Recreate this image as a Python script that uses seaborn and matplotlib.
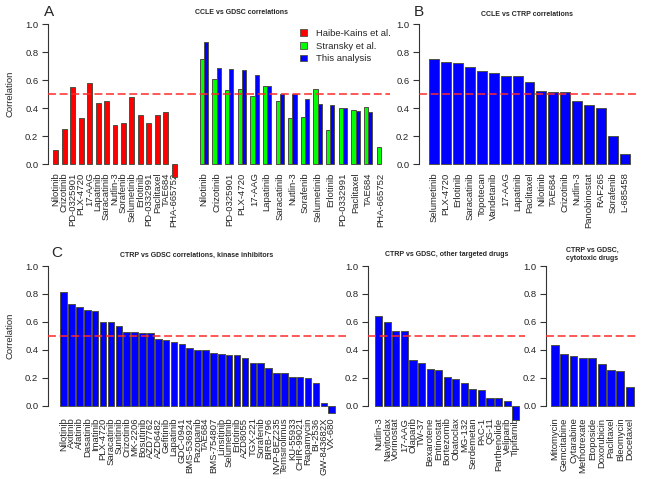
import numpy as np
import pandas as pd
import matplotlib as mpl
mpl.use('Agg')
import matplotlib.pyplot as plt
from matplotlib.patches import Patch
from matplotlib.ticker import FormatStrFormatter
import seaborn as sns

sns.set_style("ticks")
plt.rcParams['font.family'] = ['Liberation Sans', 'DejaVu Sans']

# ---- data -----------------------------------------------------------------
a_drugs = ["Nilotinib", "Crizotinib", "PD-0325901", "PLX-4720", "17-AAG", "Lapatinib",
           "Saracatinib", "Nutlin-3", "Sorafenib", "Selumetinib", "Erlotinib",
           "PD-0332991", "Paclitaxel", "TAE684", "PHA-665752"]
a_haibe = [0.10, 0.25, 0.55, 0.33, 0.58, 0.44, 0.45, 0.28, 0.29, 0.48, 0.35, 0.29, 0.35, 0.37, -0.09]
a_stransky = [0.75, 0.61, 0.53, 0.54, 0.49, 0.56, 0.45, 0.33, 0.34, 0.54, 0.24, 0.40, 0.39, 0.41, 0.12]
a_this = [0.87, 0.69, 0.68, 0.67, 0.64, 0.555, 0.50, 0.50, 0.465, 0.43, 0.42, 0.40, 0.38, 0.37, np.nan]

b_drugs = ["Selumetinib", "PLX-4720", "Erlotinib", "Saracatinib", "Topotecan", "Vandetanib",
           "17-AAG", "Lapatinib", "Paclitaxel", "Nilotinib", "TAE684", "Crizotinib",
           "Nutlin-3", "Panobinostat", "RAF265", "Sorafenib", "L-685458"]
b_corr = [0.754, 0.730, 0.723, 0.695, 0.663, 0.652, 0.628, 0.628, 0.585, 0.525, 0.513,
          0.513, 0.453, 0.42, 0.40, 0.20, 0.069]

c1_drugs = ["Nilotinib", "Axitinib", "Afatinib", "Dasatinib", "Imatinib", "PLX-4720",
            "Saracatinib", "Sunitinib", "Crizotinib", "MK-2206", "Bosutinib", "AZD7762",
            "AZD6482", "Gefitinib", "Lapatinib", "GDC-0941", "BMS-536924", "Pazopanib",
            "TAE684", "BMS-754807", "Linsitinib", "Selumetinib", "Erlotinib", "AZD8055",
            "TGX-221", "Sorafenib", "BIRB-796", "NVP-BEZ235", "Temsirolimus", "KU-55933",
            "CHIR-99021", "Rapamycin", "BI-2536", "GW-843682X", "VX-680"]
c1_corr = [0.816, 0.726, 0.707, 0.688, 0.676, 0.60, 0.60, 0.567, 0.529, 0.529, 0.519, 0.519,
           0.474, 0.467, 0.453, 0.441, 0.41, 0.40, 0.396, 0.376, 0.371, 0.364, 0.362, 0.345,
           0.307, 0.307, 0.267, 0.236, 0.236, 0.205, 0.203, 0.195, 0.162, 0.022, -0.054]

c2_drugs = ["Nutlin-3", "Navitoclax", "Vorinostat", "17-AAG", "Olaparib", "TW-37",
            "Bexarotene", "Entinostat", "Bortezomib", "Obatoclax", "MG-132", "Serdemetan",
            "PAC-1", "QS-11", "Parthenolide", "Veliparib", "Tipifarnib"]
c2_corr = [0.64, 0.60, 0.533, 0.533, 0.326, 0.307, 0.26, 0.253, 0.205, 0.193, 0.162,
           0.117, 0.115, 0.057, 0.057, 0.036, -0.10]

c3_drugs = ["Mitomycin", "Gemcitabine", "Cytarabine", "Methotrexate", "Etoposide",
            "Doxorubicin", "Paclitaxel", "Bleomycin", "Docetaxel"]
c3_corr = [0.433, 0.369, 0.357, 0.343, 0.338, 0.302, 0.255, 0.245, 0.136]

RED, GREEN, BLUE = "#ff0000", "#00ff00", "#0000ff"
EDGE = "#4f4f44"

# ---- layout helpers (pixel based) ------------------------------------------
W, H = 650, 479
fig = plt.figure(figsize=(W / 100, H / 100), dpi=100)


def px_axes(left, right, y0, ylim, scale=139.7):
    top = y0 - ylim[1] * scale
    bottom = y0 - ylim[0] * scale
    return fig.add_axes([left / W, 1 - bottom / H, (right - left) / W, (bottom - top) / H])


def r_xlim(n):
    # same padding as R's barplot (space=0.2, 4% axis extension)
    return (-0.583 - 0.04 * n, n - 0.583 + 0.04 * n)


def style(ax, ylim, xlim, yaxis=True):
    ax.set_ylim(*ylim)
    ax.set_xlim(*xlim)
    ax.set_yticks(np.arange(0, 1.01, 0.2))
    ax.yaxis.set_major_formatter(FormatStrFormatter('%.1f'))
    ax.tick_params(axis='y', labelsize=6.8, length=4.5, width=0.8, pad=2.5, color='#333333')
    ax.tick_params(axis='x', labelsize=6.8, length=0, pad=1.5, labelrotation=90)
    ax.set_xlabel('')
    ax.set_ylabel('')
    for s in ['top', 'right', 'bottom']:
        ax.spines[s].set_visible(False)
    ax.spines['left'].set_bounds(0, 1)
    ax.spines['left'].set_color('#333333')
    ax.spines['left'].set_linewidth(0.8)
    if not yaxis:
        ax.spines['left'].set_visible(False)
        ax.tick_params(axis='y', left=False, labelleft=False)
    ax.axhline(0.5, color='#ff2a2a', ls=(0, (5.2, 2.4)), lw=1.1, zorder=3)
    ax.patch.set_alpha(0)
    for p in ax.patches:
        p.set_clip_on(False)


def single_bars(ax, names, vals, color, width=0.83):
    sns.barplot(x=names, y=vals, color=color, width=width, saturation=1, errorbar=None,
                edgecolor=EDGE, linewidth=0.7, ax=ax)


ylim_top = (-0.045, 1.04)
ylim_bot = (-0.07, 1.04)

# ---- panel A ---------------------------------------------------------------
axA1 = px_axes(48, 188, 164, ylim_top)
single_bars(axA1, a_drugs, a_haibe, RED, width=0.59)
style(axA1, ylim_top, (-0.92, 15.63))

a_long = pd.DataFrame({
    "drug": a_drugs * 2,
    "source": ["Stransky et al."] * len(a_drugs) + ["This analysis"] * len(a_drugs),
    "corr": a_stransky + a_this,
})
axA2 = px_axes(188, 390, 164, ylim_top)
sns.barplot(data=a_long, x="drug", y="corr", hue="source",
            palette={"Stransky et al.": GREEN, "This analysis": BLUE},
            width=0.667, saturation=1, errorbar=None, edgecolor=EDGE, linewidth=0.7,
            legend=False, ax=axA2)
style(axA2, ylim_top, (-1.27, 14.73), yaxis=False)

fig.legend(handles=[Patch(facecolor=RED, edgecolor=EDGE, lw=0.6, label="Haibe-Kains et al."),
                    Patch(facecolor=GREEN, edgecolor=EDGE, lw=0.6, label="Stransky et al."),
                    Patch(facecolor=BLUE, edgecolor=EDGE, lw=0.6, label="This analysis")],
           loc='upper left', bbox_to_anchor=(300 / W, 1 - 29 / H), frameon=False,
           fontsize=6.8, handlelength=0.7, handleheight=0.7, handletextpad=1.0,
           labelspacing=0.38, borderpad=0, borderaxespad=0)

# ---- panel B ---------------------------------------------------------------
axB = px_axes(419, 638, 164, ylim_top)
single_bars(axB, b_drugs, b_corr, BLUE)
style(axB, ylim_top, r_xlim(len(b_drugs)))

# ---- panel C ---------------------------------------------------------------
axC1 = px_axes(48, 346, 405.7, ylim_bot)
single_bars(axC1, c1_drugs, c1_corr, BLUE)
style(axC1, ylim_bot, r_xlim(len(c1_drugs)))

axC2 = px_axes(368, 525, 405.7, ylim_bot)
single_bars(axC2, c2_drugs, c2_corr, BLUE)
style(axC2, ylim_bot, r_xlim(len(c2_drugs)))

axC3 = px_axes(546, 637, 405.7, ylim_bot)
single_bars(axC3, c3_drugs, c3_corr, BLUE)
style(axC3, ylim_bot, r_xlim(len(c3_drugs)))

# ---- texts -----------------------------------------------------------------
tkw = dict(fontsize=5, fontweight='bold', ha='center', va='center')
fig.text(242 / W, 1 - 13 / H, "CCLE vs GDSC correlations", **tkw)
fig.text(527 / W, 1 - 14 / H, "CCLE vs CTRP correlations", **tkw)
fig.text(197 / W, 1 - 255 / H, "CTRP vs GDSC correlations, kinase inhibitors", **tkw)
fig.text(447 / W, 1 - 255 / H, "CTRP vs GDSC, other targeted drugs", **tkw)
fig.text(592 / W, 1 - 254.5 / H, "CTRP vs GDSC,\ncytotoxic drugs", linespacing=1.3, **tkw)

lkw = dict(fontsize=11, ha='left', va='center')
fig.text(44 / W, 1 - 12 / H, "A", **lkw)
fig.text(414 / W, 1 - 12 / H, "B", **lkw)
fig.text(51 / W, 1 - 253 / H, "C", **lkw)

ykw = dict(fontsize=6.8, rotation=90, ha='center', va='center')
fig.text(10 / W, 1 - 94 / H, "Correlation", **ykw)
fig.text(10 / W, 1 - 336 / H, "Correlation", **ykw)

fig.savefig("out.png", dpi=100)
